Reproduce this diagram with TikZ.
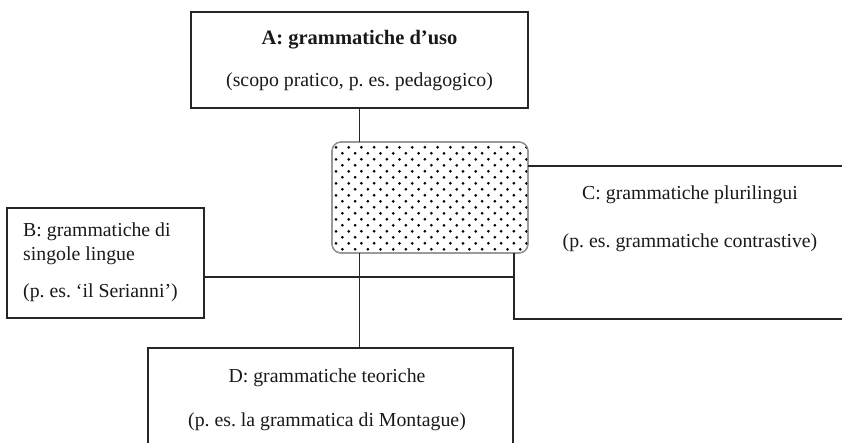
\documentclass[tikz,border=0pt]{standalone}
\usepackage{fontspec}
\setmainfont{Liberation Serif}
\begin{document}
\begin{tikzpicture}[x=1pt,y=-1pt,
  box/.style={draw=black!85, line width=1.2pt, inner sep=0pt, outer sep=0pt, rectangle},
  hubbox/.style={draw=black!45, line width=1.2pt, rounded corners=9pt, inner sep=0pt, outer sep=0pt, rectangle},
  lbl/.style={font=\fontsize{19.8}{23}\selectfont, inner sep=0pt, text=black!90},
  conn/.style={draw=black!85, line width=1.2pt}]
\useasboundingbox (0,0) rectangle (842,443);
% boxes
\node[box, minimum width=337pt, minimum height=96pt] (A) at (359.5,60) {};
\node[box, minimum width=197pt, minimum height=110pt] (B) at (105.5,263) {};
\node[box, minimum width=365pt, minimum height=160pt] (D) at (330.5,428) {};
\node[hubbox, minimum width=196pt, minimum height=111pt] (hub) at (430,197.5) {};
% dots
\begin{scope}
  \clip[rounded corners=9pt] (hub.south west) rectangle (hub.north east);
  \foreach \j in {0,...,18} {
    \pgfmathsetmacro{\yy}{147.3+6*\j}
    \pgfmathsetmacro{\xo}{mod(\j,2)==0 ? 348.7 : 342.4}
    \foreach \i in {-1,...,16} {
      \fill[black] (\xo+12.7*\i,\yy) circle[radius=1.5pt];
    }
  }
\end{scope}
\node[hubbox] at (hub) [minimum width=196pt, minimum height=111pt] {};
% junction coordinates
\coordinate (cj) at (514,277);
\coordinate (cbl) at (514,319);
\coordinate (ctr) at (842,166);
\coordinate (cbr) at (842,319);
% connectors
\draw[conn] (A.south) -- (A.south |- hub.north);
\draw[conn] (A.south |- hub.south) -- (A.south |- D.north);
\draw[conn] (B.east |- cj) -- (cj);
\draw[conn] (hub.south -| cj) -- (cbl) -- (cbr);
\draw[conn] (hub.east |- ctr) -- (ctr);
% texts
\node[lbl, font=\fontsize{20.5}{23}\selectfont\bfseries] (At) at (359.5,40) {A: grammatiche d’uso};
\node[lbl] (As) at (359.5,82) {(scopo pratico, p.\ es.\ pedagogico)};
\node[lbl, anchor=base west] (Bt1) at (23,237) {B: grammatiche di};
\node[lbl, anchor=base west] (Bt2) at (23,261) {singole lingue};
\node[lbl, anchor=base west] (Bs) at (23,297) {(p.\ es.\ ‘il Serianni’)};
\node[lbl] (Ct) at (690,195) {C: grammatiche plurilingui};
\node[lbl] (Cs) at (690,243) {(p.\ es.\ grammatiche contrastive)};
\node[lbl] (Dt) at (327,378) {D: grammatiche teoriche};
\node[lbl] (Ds) at (327,422) {(p.\ es.\ la grammatica di Montague)};
\end{tikzpicture}
\end{document}
